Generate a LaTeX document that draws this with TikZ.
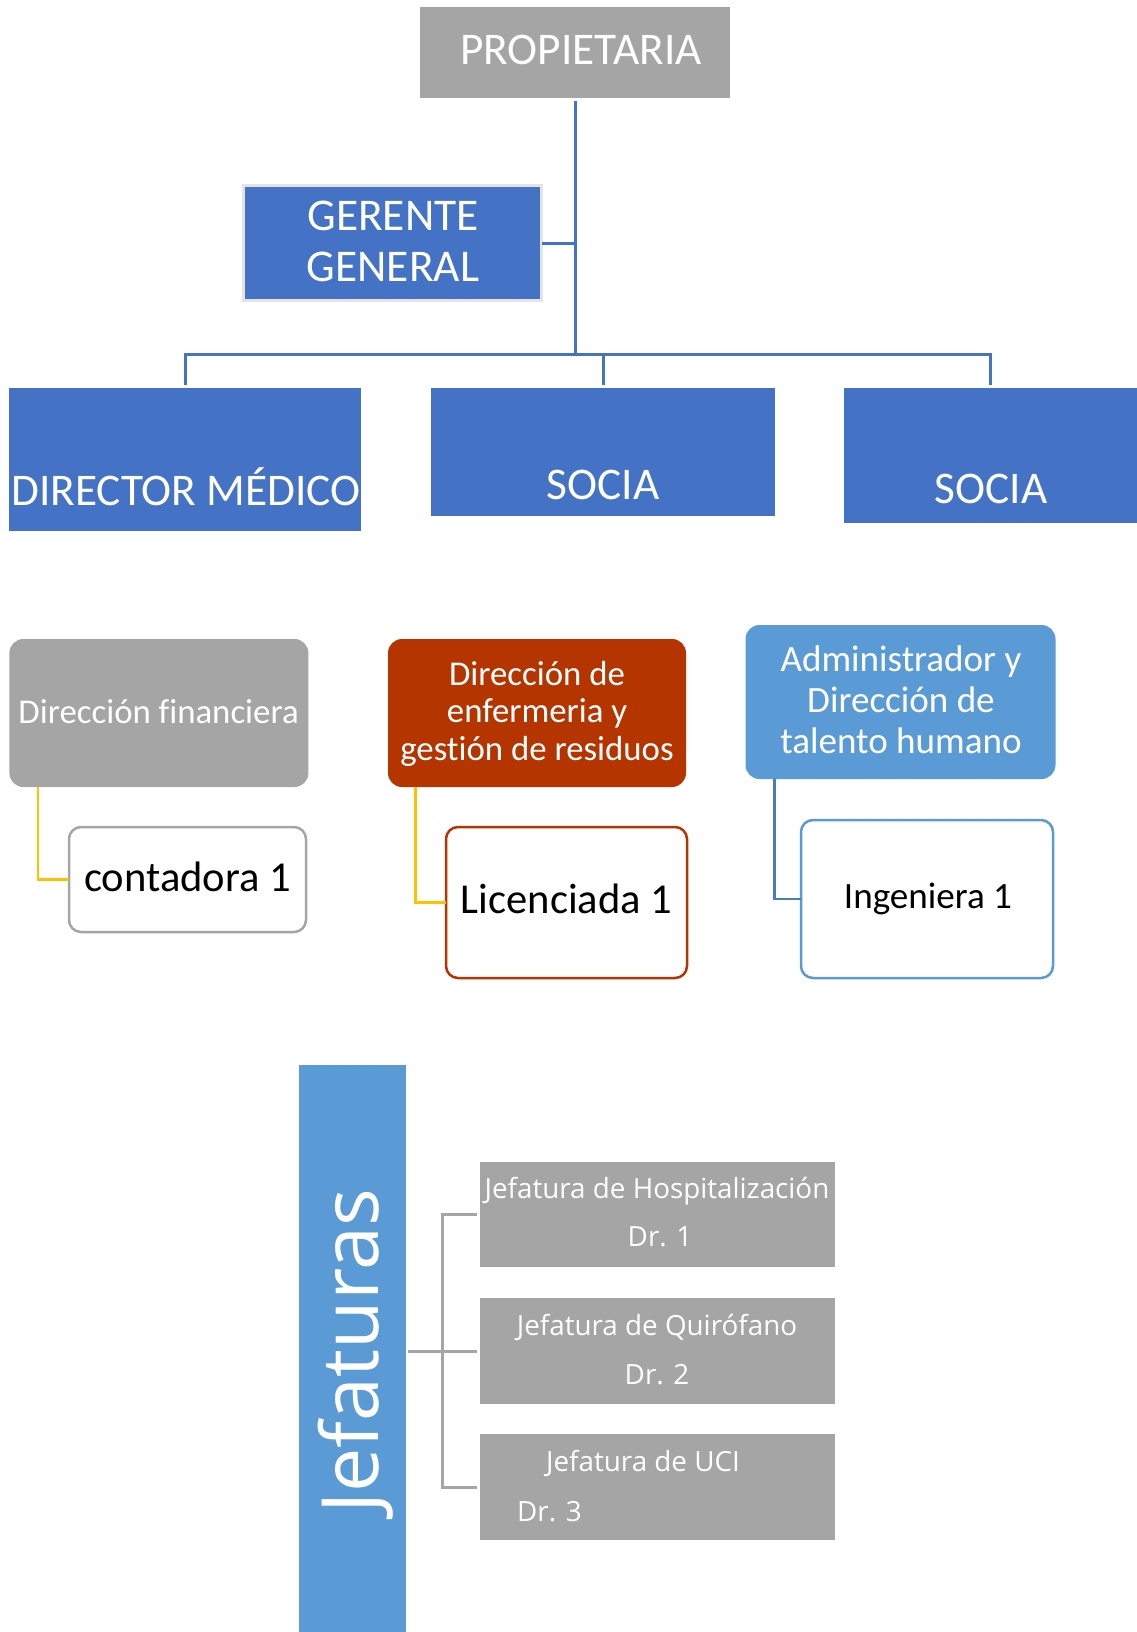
\documentclass[tikz,border=0pt]{standalone}
\usepackage{fontspec}
\setmainfont{Carlito}[Ligatures={NoCommon}]
\newfontfamily\osans{Open Sans}
\usetikzlibrary{calc}
\definecolor{cgray}{HTML}{A5A5A5}
\definecolor{cblue}{HTML}{4472C4}
\definecolor{clblue}{HTML}{5B9BD5}
\definecolor{corange}{HTML}{B43500}
\definecolor{cyellow}{HTML}{FFC000}
\definecolor{cdblue}{HTML}{4A7EBB}
\definecolor{cgborder}{HTML}{E4E4E4}
\begin{document}
\begin{tikzpicture}[x=1pt,y=-1pt,
  boxbase/.style={anchor=north west, inner sep=0pt, outer sep=0pt},
  graybox/.style={boxbase, fill=cgray},
  bluebox/.style={boxbase, fill=cblue},
  rgray/.style={boxbase, fill=cgray, rounded corners=14pt},
  rorange/.style={boxbase, fill=corange, rounded corners=14pt},
  rlblue/.style={boxbase, fill=clblue, rounded corners=14pt},
  wbox/.style={boxbase, fill=white, line width=2.5pt, rounded corners=12pt},
  wtxt/.style={anchor=base, inner sep=0pt, text=white},
  ktxt/.style={anchor=base, inner sep=0pt, text=black},
  bconn/.style={draw=cblue, line width=3pt},
  yconn/.style={draw=cyellow, line width=2.5pt},
  dbconn/.style={draw=cdblue, line width=2.5pt},
  gconn/.style={draw=cgray, line width=3pt},
  fA/.style={font=\fontsize{45.3}{54}\selectfont},
  fG/.style={font=\fontsize{45.4}{54}\selectfont},
  fB/.style={font=\fontsize{42.6}{50}\selectfont},
  fC/.style={font=\fontsize{34.8}{38}\selectfont},
  fD/.style={font=\fontsize{37.1}{41}\selectfont},
  fE/.style={font=\osans\fontsize{27.8}{33}\selectfont},
]
\useasboundingbox (0,0) rectangle (1137,1632);

% ---- top level ----
\node[graybox, minimum width=310, minimum height=91] (prop) at (420,7) {};
\node[wtxt, fA] (propt) at (581,65) {PROPIETARIA};

\node[bluebox, draw=cgborder, line width=3pt, minimum width=298, minimum height=114] (ger) at (243.6,186) {};
\node[wtxt, fG] (gert1) at (393,230) {GERENTE};
\node[wtxt, fG] (gert2) at (393,281) {GENERAL};

\node[bluebox, minimum width=352, minimum height=143] (dm) at (9.4,388) {};
\node[wtxt, fA] (dmt) at (186,505) {DIRECTOR MÉDICO};

\node[bluebox, minimum width=344, minimum height=128] (s1) at (431,388) {};
\node[wtxt, fA] (s1t) at (603,499) {SOCIA};

\node[bluebox, minimum width=293, minimum height=135] (s2) at (844,388) {};
\node[wtxt, fA] (s2t) at (991,503) {SOCIA};

\coordinate (hub) at (575,354);
\draw[bconn] ([yshift=-3pt]prop.south) -- (hub);
\draw[bconn] (ger.east) -- (ger.east -| hub);
\draw[bconn] ([yshift=3pt]dm.north) |- (hub) -| ([yshift=3pt]s2.north);
\draw[bconn] ([yshift=3pt]s1.north) -- (s1.north |- hub);

% ---- second level ----
\node[rgray, minimum width=299, minimum height=148] (fin) at (9.4,639) {};
\node[wtxt, fC] (fint) at (158.6,723) {Dirección financiera};
\node[wbox, draw=cgray, minimum width=237, minimum height=105] (cont) at (69,827) {};
\node[ktxt, fB] (contt) at (187.6,891) {contadora 1};
\draw[yconn] ($(fin.south west)+(28.5,0)$) |- (cont.west);

\node[rorange, minimum width=298, minimum height=148] (enf) at (388,639) {};
\node[wtxt, fC] (enft1) at (537,685) {Dirección de};
\node[wtxt, fC] (enft2) at (537,722) {enfermeria y};
\node[wtxt, fC] (enft3) at (537,760) {gestión de residuos};
\node[wbox, draw=corange, minimum width=241, minimum height=151] (lic) at (446,827) {};
\node[ktxt, fB] (lict) at (566.5,913) {Licenciada 1};
\draw[yconn] ($(enf.south west)+(27.5,0)$) |- (lic.west);

\node[rlblue, minimum width=310, minimum height=154] (adm) at (745.5,625) {};
\node[wtxt, fD] (admt1) at (901,671) {Administrador y};
\node[wtxt, fD] (admt2) at (901,712) {Dirección de};
\node[wtxt, fD] (admt3) at (901,753) {talento humano};
\node[wbox, draw=clblue, minimum width=252, minimum height=158] (ing) at (801,820) {};
\node[ktxt, fD] (ingt) at (928,908) {Ingeniera 1};
\draw[dbconn] ($(adm.south west)+(29,0)$) |- (ing.west);

% ---- Jefaturas ----
\node[boxbase, fill=clblue, minimum width=107, minimum height=580] (jef) at (299,1065) {};
\node[wtxt, rotate=90, font=\osans\fontsize{79}{90}\selectfont] (jeft) at (378,1351) {Jefaturas};

\node[graybox, minimum width=355, minimum height=105] (j1) at (480,1162) {};
\node[wtxt, fE] (j1a) at (657,1198) {Jefatura de Hospitalización};
\node[wtxt, fE] (j1b) at (660,1246) {Dr. 1};

\node[graybox, minimum width=355, minimum height=106] (j2) at (480,1298) {};
\node[wtxt, fE] (j2a) at (657,1335) {Jefatura de Quirófano};
\node[wtxt, fE] (j2b) at (657,1384) {Dr. 2};

\node[graybox, minimum width=355, minimum height=106] (j3) at (480,1434) {};
\node[wtxt, fE] (j3a) at (643,1471) {Jefatura de UCI};
\node[wtxt, fE, anchor=base west] (j3b) at (517,1521) {Dr. 3};

\coordinate (jb) at (442,1351);
\draw[gconn] ([xshift=-3pt]j1.west) -| (jb) |- ([xshift=-3pt]j3.west);
\draw[gconn] ([xshift=2pt]j2.west -| jef.east) -- ([xshift=-3pt]j2.west);
\end{tikzpicture}
\end{document}
